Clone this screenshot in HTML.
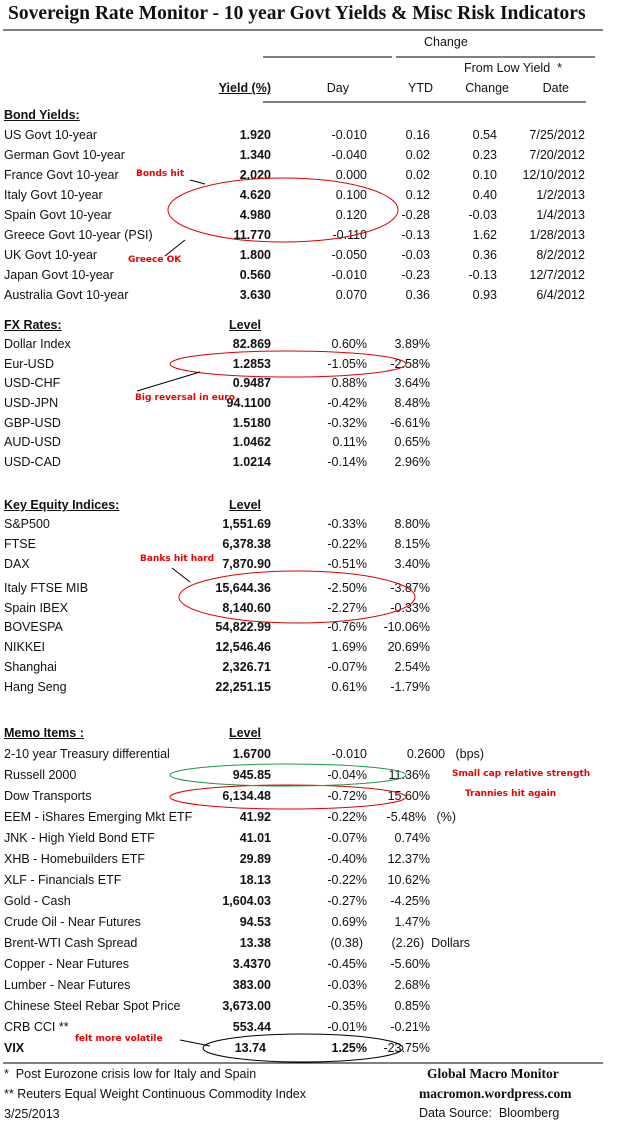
<!DOCTYPE html><html><head><meta charset="utf-8"><style>
body{margin:0;width:621px;height:1125px;background:#fff;position:relative;font-family:"Liberation Sans",sans-serif;font-size:12.5px;color:#111;overflow:hidden}
.r{position:absolute;left:0;width:621px;height:16px;line-height:16px}
.r span{position:absolute;white-space:nowrap}
.l{left:4px}.a{right:350px;font-weight:bold}.b{right:254px}.c{right:191px}.d{right:124px}.e{right:36px}
.h{font-weight:bold;text-decoration:underline}
.an{position:absolute;color:#e00;font-weight:bold;font-size:9px;font-family:"Comic Sans MS","DejaVu Sans",sans-serif;white-space:nowrap}
.t{position:absolute;white-space:nowrap}
svg{position:absolute;left:0;top:0}
</style></head><body>
<div class="t" style="left:8px;top:3px;font-family:'Liberation Serif',serif;font-weight:bold;font-size:19.5px">Sovereign Rate Monitor - 10 year Govt Yields &amp; Misc Risk Indicators</div>
<div class="t" style="left:424px;top:35px">Change</div>
<div class="t" style="left:464px;top:61px">From Low Yield&nbsp; *</div>
<div class="r" style="top:80px"><span class="a" style="text-decoration:underline">Yield (%)</span><span class="b" style="right:272px">Day</span><span class="c" style="right:188px">YTD</span><span class="d" style="right:112px">Change</span><span class="e" style="right:52px">Date</span></div>
<div class="r" style="top:107px"><span class="l h">Bond Yields:</span></div>
<div class="r" style="top:127px"><span class="l">US Govt 10-year</span><span class="a">1.920</span><span class="b">-0.010</span><span class="c">0.16</span><span class="d">0.54</span><span class="e">7/25/2012</span></div>
<div class="r" style="top:147px"><span class="l">German Govt 10-year</span><span class="a">1.340</span><span class="b">-0.040</span><span class="c">0.02</span><span class="d">0.23</span><span class="e">7/20/2012</span></div>
<div class="r" style="top:167px"><span class="l">France Govt 10-year</span><span class="a">2.020</span><span class="b">0.000</span><span class="c">0.02</span><span class="d">0.10</span><span class="e">12/10/2012</span></div>
<div class="r" style="top:187px"><span class="l">Italy Govt 10-year</span><span class="a">4.620</span><span class="b">0.100</span><span class="c">0.12</span><span class="d">0.40</span><span class="e">1/2/2013</span></div>
<div class="r" style="top:207px"><span class="l">Spain Govt 10-year</span><span class="a">4.980</span><span class="b">0.120</span><span class="c">-0.28</span><span class="d">-0.03</span><span class="e">1/4/2013</span></div>
<div class="r" style="top:227px"><span class="l">Greece Govt 10-year (PSI)</span><span class="a">11.770</span><span class="b">-0.110</span><span class="c">-0.13</span><span class="d">1.62</span><span class="e">1/28/2013</span></div>
<div class="r" style="top:247px"><span class="l">UK Govt 10-year</span><span class="a">1.800</span><span class="b">-0.050</span><span class="c">-0.03</span><span class="d">0.36</span><span class="e">8/2/2012</span></div>
<div class="r" style="top:267px"><span class="l">Japan Govt 10-year</span><span class="a">0.560</span><span class="b">-0.010</span><span class="c">-0.23</span><span class="d">-0.13</span><span class="e">12/7/2012</span></div>
<div class="r" style="top:287px"><span class="l">Australia Govt 10-year</span><span class="a">3.630</span><span class="b">0.070</span><span class="c">0.36</span><span class="d">0.93</span><span class="e">6/4/2012</span></div>
<div class="r" style="top:317px"><span class="l h">FX Rates:</span><span class="a" style="text-decoration:underline;right:360px">Level</span></div>
<div class="r" style="top:336px"><span class="l">Dollar Index</span><span class="a">82.869</span><span class="b">0.60%</span><span class="c">3.89%</span></div>
<div class="r" style="top:356px"><span class="l">Eur-USD</span><span class="a">1.2853</span><span class="b">-1.05%</span><span class="c">-2.58%</span></div>
<div class="r" style="top:375px"><span class="l">USD-CHF</span><span class="a">0.9487</span><span class="b">0.88%</span><span class="c">3.64%</span></div>
<div class="r" style="top:395px"><span class="l">USD-JPN</span><span class="a">94.1100</span><span class="b">-0.42%</span><span class="c">8.48%</span></div>
<div class="r" style="top:415px"><span class="l">GBP-USD</span><span class="a">1.5180</span><span class="b">-0.32%</span><span class="c">-6.61%</span></div>
<div class="r" style="top:434px"><span class="l">AUD-USD</span><span class="a">1.0462</span><span class="b">0.11%</span><span class="c">0.65%</span></div>
<div class="r" style="top:454px"><span class="l">USD-CAD</span><span class="a">1.0214</span><span class="b">-0.14%</span><span class="c">2.96%</span></div>
<div class="r" style="top:497px"><span class="l h">Key Equity Indices:</span><span class="a" style="text-decoration:underline;right:360px">Level</span></div>
<div class="r" style="top:516px"><span class="l">S&amp;P500</span><span class="a">1,551.69</span><span class="b">-0.33%</span><span class="c">8.80%</span></div>
<div class="r" style="top:536px"><span class="l">FTSE</span><span class="a">6,378.38</span><span class="b">-0.22%</span><span class="c">8.15%</span></div>
<div class="r" style="top:556px"><span class="l">DAX</span><span class="a">7,870.90</span><span class="b">-0.51%</span><span class="c">3.40%</span></div>
<div class="r" style="top:580px"><span class="l">Italy FTSE MIB</span><span class="a">15,644.36</span><span class="b">-2.50%</span><span class="c">-3.87%</span></div>
<div class="r" style="top:600px"><span class="l">Spain IBEX</span><span class="a">8,140.60</span><span class="b">-2.27%</span><span class="c">-0.33%</span></div>
<div class="r" style="top:619px"><span class="l">BOVESPA</span><span class="a">54,822.99</span><span class="b">-0.76%</span><span class="c">-10.06%</span></div>
<div class="r" style="top:639px"><span class="l">NIKKEI</span><span class="a">12,546.46</span><span class="b">1.69%</span><span class="c">20.69%</span></div>
<div class="r" style="top:659px"><span class="l">Shanghai</span><span class="a">2,326.71</span><span class="b">-0.07%</span><span class="c">2.54%</span></div>
<div class="r" style="top:679px"><span class="l">Hang Seng</span><span class="a">22,251.15</span><span class="b">0.61%</span><span class="c">-1.79%</span></div>
<div class="r" style="top:725px"><span class="l h">Memo Items :</span><span class="a" style="text-decoration:underline;right:360px">Level</span></div>
<div class="r" style="top:746px"><span class="l">2-10 year Treasury differential</span><span class="a">1.6700</span><span class="b">-0.010</span><span class="c" style="right:137px">0.2600&nbsp;&nbsp; (bps)</span></div>
<div class="r" style="top:767px"><span class="l">Russell 2000</span><span class="a">945.85</span><span class="b">-0.04%</span><span class="c">11.36%</span></div>
<div class="r" style="top:788px"><span class="l">Dow Transports</span><span class="a">6,134.48</span><span class="b">-0.72%</span><span class="c">15.60%</span></div>
<div class="r" style="top:809px"><span class="l">EEM - iShares Emerging Mkt ETF</span><span class="a">41.92</span><span class="b">-0.22%</span><span class="c" style="right:165px">-5.48%&nbsp;&nbsp; (%)</span></div>
<div class="r" style="top:830px"><span class="l">JNK - High Yield Bond ETF</span><span class="a">41.01</span><span class="b">-0.07%</span><span class="c">0.74%</span></div>
<div class="r" style="top:851px"><span class="l">XHB - Homebuilders ETF</span><span class="a">29.89</span><span class="b">-0.40%</span><span class="c">12.37%</span></div>
<div class="r" style="top:872px"><span class="l">XLF - Financials ETF</span><span class="a">18.13</span><span class="b">-0.22%</span><span class="c">10.62%</span></div>
<div class="r" style="top:893px"><span class="l">Gold - Cash</span><span class="a">1,604.03</span><span class="b">-0.27%</span><span class="c">-4.25%</span></div>
<div class="r" style="top:914px"><span class="l">Crude Oil - Near Futures</span><span class="a">94.53</span><span class="b">0.69%</span><span class="c">1.47%</span></div>
<div class="r" style="top:935px"><span class="l">Brent-WTI Cash Spread</span><span class="a">13.38</span><span class="b" style="right:258px">(0.38)</span><span class="c" style="right:151px">(2.26)&nbsp; Dollars</span></div>
<div class="r" style="top:956px"><span class="l">Copper - Near Futures</span><span class="a">3.4370</span><span class="b">-0.45%</span><span class="c">-5.60%</span></div>
<div class="r" style="top:977px"><span class="l">Lumber - Near Futures</span><span class="a">383.00</span><span class="b">-0.03%</span><span class="c">2.68%</span></div>
<div class="r" style="top:998px"><span class="l">Chinese Steel Rebar Spot Price</span><span class="a">3,673.00</span><span class="b">-0.35%</span><span class="c">0.85%</span></div>
<div class="r" style="top:1019px"><span class="l">CRB CCI **</span><span class="a">553.44</span><span class="b">-0.01%</span><span class="c">-0.21%</span></div>
<div class="r" style="top:1040px;font-weight:bold"><span class="l">VIX</span><span class="a" style="right:355px">13.74</span><span class="b">1.25%</span><span class="c" style="font-weight:normal">-23.75%</span></div>
<div class="t" style="left:4px;top:1067px">*&nbsp; Post Eurozone crisis low for Italy and Spain</div>
<div class="t" style="left:4px;top:1087px">** Reuters Equal Weight Continuous Commodity Index</div>
<div class="t" style="left:4px;top:1107px">3/25/2013</div>
<div class="t" style="left:427px;top:1066px;font-family:'Liberation Serif',serif;font-weight:bold;font-size:13.5px">Global Macro Monitor</div>
<div class="t" style="left:419px;top:1086px;font-family:'Liberation Serif',serif;font-weight:bold;font-size:13.5px">macromon.wordpress.com</div>
<div class="t" style="left:419px;top:1106px">Data Source:&nbsp; Bloomberg</div>
<div class="an" style="left:136px;top:169px">Bonds hit</div>
<div class="an" style="left:128px;top:255px">Greece OK</div>
<div class="an" style="left:135px;top:393px">Big reversal in euro</div>
<div class="an" style="left:140px;top:554px">Banks hit hard</div>
<div class="an" style="left:452px;top:769px">Small cap relative strength</div>
<div class="an" style="left:465px;top:789px">Trannies hit again</div>
<div class="an" style="left:75px;top:1034px">felt more volatile</div>
<svg width="621" height="1125" fill="none">
<line x1="3" y1="30" x2="603" y2="30" stroke="#000"/>
<line x1="263" y1="57" x2="392" y2="57" stroke="#000"/>
<line x1="396" y1="57" x2="595" y2="57" stroke="#000"/>
<line x1="263" y1="102" x2="586" y2="102" stroke="#000"/>
<line x1="3" y1="1063" x2="603" y2="1063" stroke="#000"/>
<g stroke="#d00" stroke-width="1">
<ellipse cx="283" cy="210" rx="115" ry="32"/>
<ellipse cx="288" cy="364" rx="118" ry="13"/>
<ellipse cx="297" cy="597" rx="118" ry="26"/>
<ellipse cx="288" cy="797" rx="118" ry="12"/>
</g>
<ellipse cx="288" cy="775" rx="118" ry="11" stroke="#1a9a4a"/>
<ellipse cx="303" cy="1048" rx="100" ry="14" stroke="#000"/>
<g stroke="#000">
<line x1="190" y1="180" x2="205" y2="184"/>
<line x1="165" y1="256" x2="185" y2="240"/>
<line x1="137" y1="391" x2="200" y2="372"/>
<line x1="172" y1="568" x2="190" y2="582"/>
<line x1="180" y1="1040" x2="210" y2="1046"/>
</g>
</svg>
</body></html>
